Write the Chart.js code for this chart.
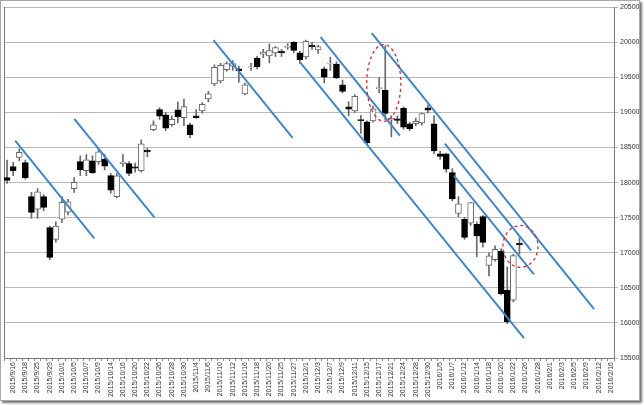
<!DOCTYPE html>
<html><head><meta charset="utf-8">
<script src="https://cdn.jsdelivr.net/npm/chart.js@4/dist/chart.umd.min.js"></script>
<style>
html,body{margin:0;padding:0;background:#fff;}
#wrap{position:absolute;left:0;top:0;width:638px;height:399px;border:1px solid #a8a8a8;box-shadow:2px 2px 2px rgba(0,0,0,0.55);background:#fff;}
canvas{display:block;}
</style></head><body>
<div id="wrap"><canvas id="c" width="638" height="399"></canvas></div>
<script>
const dates = ['2015/9/15','2015/9/16','2015/9/17','2015/9/18','2015/9/24','2015/9/25','2015/9/28','2015/9/29','2015/9/30',
'2015/10/1','2015/10/2','2015/10/5','2015/10/6','2015/10/7','2015/10/8','2015/10/9','2015/10/13','2015/10/14','2015/10/15','2015/10/16','2015/10/19','2015/10/20','2015/10/21','2015/10/22','2015/10/23','2015/10/26','2015/10/27','2015/10/28','2015/10/29','2015/10/30',
'2015/11/2','2015/11/4','2015/11/5','2015/11/6','2015/11/9','2015/11/10','2015/11/11','2015/11/12','2015/11/13','2015/11/16','2015/11/17','2015/11/18','2015/11/19','2015/11/20','2015/11/24','2015/11/25','2015/11/26','2015/11/27','2015/11/30',
'2015/12/1','2015/12/2','2015/12/3','2015/12/4','2015/12/7','2015/12/8','2015/12/9','2015/12/10','2015/12/11','2015/12/14','2015/12/15','2015/12/16','2015/12/17','2015/12/18','2015/12/21','2015/12/22','2015/12/24','2015/12/25','2015/12/28','2015/12/29','2015/12/30',
'2016/1/4','2016/1/5','2016/1/6','2016/1/7','2016/1/8','2016/1/12','2016/1/13','2016/1/14','2016/1/15','2016/1/18','2016/1/19','2016/1/20','2016/1/21','2016/1/22','2016/1/25','2016/1/26','2016/1/27','2016/1/28','2016/1/29',
'2016/2/1','2016/2/2','2016/2/3','2016/2/4','2016/2/5','2016/2/8','2016/2/9','2016/2/10','2016/2/12','2016/2/15','2016/2/16'];

const open  = [18070,18230,18360,18285,17800,17620,17800,17360,17190,17480,17580,17915,18300,18170,18310,18300,18330,18100,17800,18270,18270,18225,18170,18460,18755,19040,18965,18825,19037,18924,
18824,18950,19022,19193,19406,19449,19610,19660,19620,19264,19640,19775,19830,19805,19850,19870,19925,20000,19850,19790,19960,19890,19620,19690,19690,19392,19080,19022,18900,18867,
18880,19340,19320,18895,18910,19060,18838,18840,18850,19065,18838,18410,18410,18142,17560,17475,17420,17404,17517,16820,16900,17020,16466,16324,17135];
const high  = [18320,18290,18480,18320,17860,17915,17830,17380,17440,17800,17760,18070,18380,18400,18380,18480,18400,18130,18130,18400,18300,18280,18610,18490,18880,19070,19000,18950,19150,19190,
18850,19040,19140,19300,19680,19700,19720,19740,19660,19420,19700,19800,19900,19975,19940,19900,19980,20010,19870,20030,20000,19960,19650,19790,19720,19460,19150,19250,18960,18880,
19090,19500,19950,18950,18950,19080,18860,18920,18990,19110,18950,18450,18420,18200,17800,17500,17720,17440,17530,17000,17100,17060,16800,16980,17210];
const low   = [17990,18100,18310,18050,17490,17490,17600,16900,17150,17430,17540,17860,18100,18100,18130,18260,18180,17850,17780,18230,18100,18150,18150,18370,18740,18900,18740,18800,18850,18810,
18640,18920,18990,19150,19380,19420,19590,19600,19430,19250,19600,19620,19780,19705,19800,19800,19900,19850,19700,19760,19900,19840,19420,19600,19480,19280,18950,19000,18700,18540,
18860,19280,18900,18650,18840,18760,18740,18810,18820,18990,18410,18330,18150,17740,17510,17190,17390,16940,17080,16670,16880,16400,15990,16300,16980];
const close = [18030,18170,18430,18070,17575,17870,17645,16935,17380,17720,17725,18005,18186,18323,18141,18438,18235,17891,18097,18291,18131,18207,18554,18436,18825,18947,18777,18903,18936,19083,
18683,18927,19116,19266,19643,19671,19698,19698,19597,19394,19650,19649,19860,19880,19925,19848,19944,19884,19747,20012,19938,19940,19504,19698,19492,19301,19047,19230,18883,18566,
19050,19354,18987,18916,18887,18790,18769,18873,18982,19034,18451,18374,18191,17767,17698,17219,17716,17241,17147,16956,17048,16416,16017,16959,17111];

const yTicks = [15500,16000,16500,17000,17500,18000,18500,19000,19500,20000,20500];

// trend lines: start/end as (category position, value)
const trendStartIdx = [1.33, 11.02, 33.84, 48.13, 51.41, 59.78, 71.77, 73.25];
const trendStartVal = [18597, 18909, 20031, 19705, 20074, 20131, 18554, 18099];
const trendEndIdx   = [14.30, 24.15, 46.81, 84.75, 64.38, 96.24, 85.90, 86.39];
const trendEndVal   = [17204, 17503, 18639, 15784, 18668, 16196, 17034, 16693];

// dashed red ellipses: centre (category position, value), radii (categories, value)
const circleIdx = [61.76, 84.16];
const circleVal = [19421, 17091];
const circleRx  = [2.79, 2.87];
const circleRy  = [547, 298];

const n = close.length;
const bodyData = [], wickData = [], bodyFill = [], bodyBorder = [];
for (let i=0;i<n;i++){
  bodyData.push({x:i, y:[open[i], close[i]]});
  wickData.push({x:i, y:[low[i], high[i]]});
  const down = close[i] < open[i];
  bodyFill.push(down ? '#000000' : '#ffffff');
  bodyBorder.push(down ? '#000000' : '#6a6a6a');
}

const datasets = [
  {type:'bar', data: bodyData, backgroundColor: bodyFill, borderColor: bodyBorder, borderWidth: 1, borderSkipped: false,
   barThickness: 6, grouped: false, order: 1},
  {type:'bar', data: wickData, backgroundColor: '#6a6a6a', borderWidth: 0, barThickness: 1, grouped: false, order: 2}
];
for (let k=0;k<trendStartIdx.length;k++){
  datasets.push({type:'line', data:[{x:trendStartIdx[k], y:trendStartVal[k]},{x:trendEndIdx[k], y:trendEndVal[k]}],
    borderColor:'#3d87cf', borderWidth:2, pointRadius:0, fill:false, order:0});
}

const ellipsePlugin = {
  id:'ellipses',
  afterDatasetsDraw(chart){
    const xs = chart.scales.x, ys = chart.scales.y, ctx = chart.ctx;
    ctx.save();
    ctx.strokeStyle = '#e8262a'; ctx.lineWidth = 1.3; ctx.setLineDash([3,3]);
    for (let k=0;k<circleIdx.length;k++){
      const cx = xs.getPixelForValue(circleIdx[k]);
      const cy = ys.getPixelForValue(circleVal[k]);
      const rx = Math.abs(xs.getPixelForValue(circleIdx[k]+circleRx[k]) - cx);
      const ry = Math.abs(ys.getPixelForValue(circleVal[k]+circleRy[k]) - cy);
      ctx.beginPath(); ctx.ellipse(cx, cy, rx, ry, 0, 0, Math.PI*2); ctx.stroke();
    }
    ctx.restore();
  }
};

new Chart(document.getElementById('c'), {
  type:'bar',
  data:{datasets},
  options:{
    responsive:false, animation:false, devicePixelRatio:1,
    layout:{padding:{left:3, top:5, right:0, bottom:0}},
    plugins:{legend:{display:false}, tooltip:{enabled:false}},
    scales:{
      x:{type:'linear', min:-0.5, max:dates.length-0.5, position:'bottom', offset:false,
         afterBuildTicks(s){ s.ticks = dates.map((d,i)=>({value:i})); },
         grid:{display:true, drawOnChartArea:false, drawTicks:true, tickLength:3, color:'#8a8a8a'},
         border:{display:true, color:'#7a7a7a'},
         ticks:{autoSkip:false, maxRotation:90, minRotation:90, padding:1, color:'#333',
                font:{size:7, family:'Liberation Sans'},
                callback:function(v){ return (Number.isInteger(v) && v%2===1) ? dates[v] : ''; }},
         afterFit(s){ s.height = 42; }},
      y:{type:'linear', position:'right', min:15500, max:20500,
         afterBuildTicks(s){ s.ticks = yTicks.map(v=>({value:v})); },
         grid:{color:'#b8b8b8', lineWidth:1, tickLength:4},
         border:{display:true, color:'#7a7a7a'},
         ticks:{padding:2, color:'#333', font:{size:7, family:'Liberation Sans'},
                callback:function(v){ return String(v); }},
         afterFit(s){ s.width = 25; }},
      yl:{type:'linear', position:'left', min:15500, max:20500,
         grid:{display:false}, ticks:{display:false},
         border:{display:true, color:'#7a7a7a'},
         afterFit(s){ s.width = 0; }}
    }
  },
  plugins:[ellipsePlugin]
});
</script>
</body></html>
